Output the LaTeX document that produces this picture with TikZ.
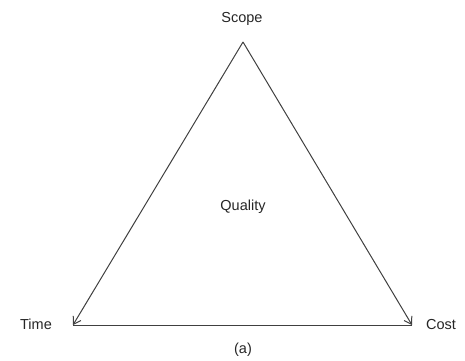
\documentclass[tikz,border=0pt]{standalone}
\usepackage{fontspec}
\setmainfont{Liberation Sans}
\usetikzlibrary{arrows.meta}
\begin{document}
\begin{tikzpicture}[x=1pt,y=-1pt,
  side/.style={draw=black!75, line width=1pt},
  arr/.style={side, -{Straight Barb[length=7pt,width=9pt]}},
  lbl/.style={font=\fontsize{14.5}{17}\selectfont, text=black!85, inner sep=0pt}]
\useasboundingbox (0,0) rectangle (465,360);
\coordinate (S) at (243,42);
\coordinate (T) at (73,325);
\coordinate (C) at (412,325);
\node[lbl] (scope) at (242,19) {Scope};
\node[lbl] (time) at (36,324) {Time};
\node[lbl] (cost) at (441,324) {Cost};
\node[lbl] (quality) at (243,207) {Quality};
\node[lbl] (a) at (243,350) {(a)};
\draw[arr] (S) -- (T);
\draw[arr] (S) -- (C);
\draw[side] (T) -- (C);
\end{tikzpicture}
\end{document}
